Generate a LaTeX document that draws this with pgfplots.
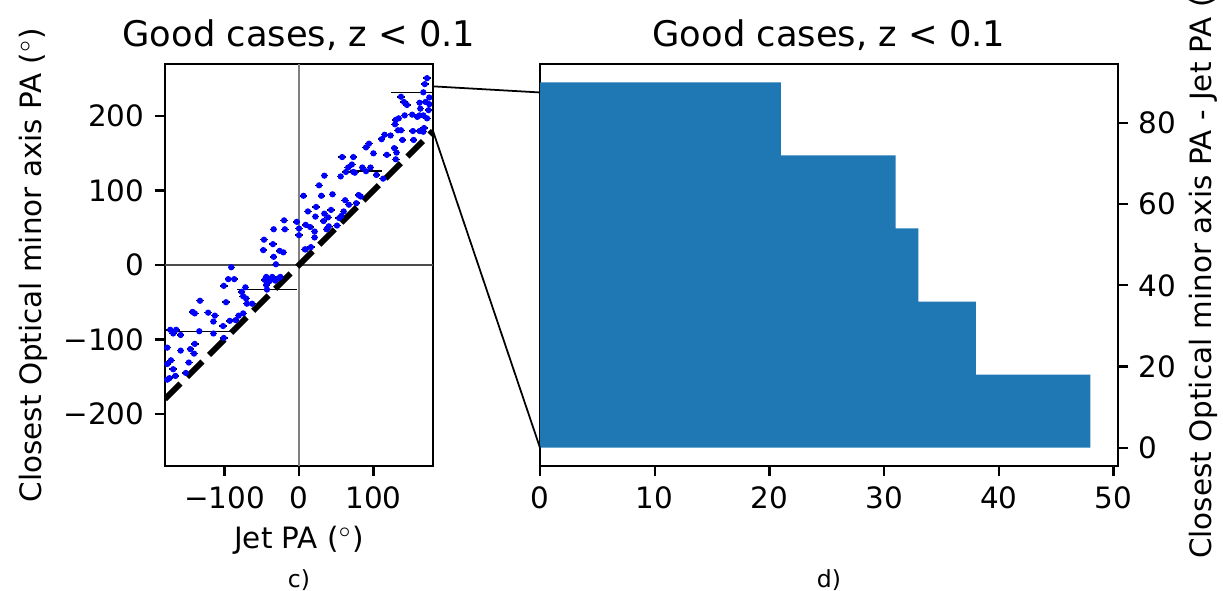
\documentclass[border=0pt]{standalone}
\usepackage{pgfplots}
\usepackage{pgfplotstable}
\pgfplotsset{compat=1.18}
\usepackage{fontspec}
\setmainfont{DejaVu Sans}
\definecolor{mplblue}{HTML}{1F77B4}

\pgfplotstableread{
x y ex
-133 -48 5
-143 -63 5
-140 -65 5
-122 -64 5
-113 -68 5
-115 -76 5
-173 -87 5
-169 -92 5
-165 -87 5
-159 -94 5
-134 -89 42
-115 -92 5
-177 -111 5
-159 -115 5
-146 -113 5
-140 -106 5
-141 -119 5
-172 -128 5
-177 -133 5
-148 -131 5
-169 -140 5
-166 -149 5
-174 -152 5
-177 -154 5
-152 -145 5
-91 -3 5
-95 -19 5
-87 -19 5
-101 -28 5
-72 -30 5
-77 -36 5
-75 -42 5
-71 -45 5
-70 -52 5
-63 -52 5
-98 -50 5
-102 -82 5
-93 -75 5
-85 -74 5
-81 -68 5
-75 -65 5
-101 -98 5
-20 60 5
-3 58 5
0 49 5
9 54 5
-34 48 5
-19 48 5
-47 34 5
-35 28 5
-48 20 5
-26 19 5
-21 17 5
-34 11 5
8 21 5
-31 1 5
-44 -16 5
-36 -16 5
-25 -16 5
-46 -20 5
-40 -22 5
-32 -21 5
-28 -18 5
-38 -19 5
-44 -27 5
-43 -33 40
66 131 5
73 125 5
63 125 5
56 119 5
34 120 5
27 107 5
6 93 5
30 93 5
45 95 5
62 87 5
67 81 5
23 78 5
12 72 5
43 74 5
60 72 5
34 69 5
22 65 5
39 64 5
54 63 5
33 59 5
15 51 5
40 52 5
51 53 5
37 48 5
21 45 5
0 40 5
21 37 5
9 21 5
16 24 5
130 195 5
129 189 5
133 181 5
115 175 5
123 174 5
111 169 5
94 163 5
90 158 5
128 157 5
131 151 5
100 150 5
118 148 5
130 142 5
58 145 5
73 145 5
71 135 5
85 131 5
96 131 5
75 124 5
90 126 21
104 121 5
113 116 5
80 94 5
83 92 5
77 83 5
57 66 5
172 251 5
169 243 5
167 232 43
175 225 5
137 226 5
141 219 5
145 215 5
162 218 5
170 219 5
175 216 5
163 210 5
174 208 5
152 202 5
159 199 5
162 201 5
167 201 5
172 197 5
142 201 5
134 197 5
137 181 5
153 180 5
162 180 5
168 184 5
167 179 5
139 168 5
154 168 5
}\pts

\pgfplotsset{
  mplstyle/.style={
    scale only axis,
    anchor=south west,
    height=136.68pt,
    tick align=outside,
    major tick length=3.5pt,
    axis line style={line width=0.8pt},
    every tick/.style={black, line width=0.8pt},
    tick label style={font=\fontsize{10}{12}\selectfont},
    label style={font=\fontsize{10}{12}\selectfont},
    title style={font=\fontsize{12}{14}\selectfont, at={(rel axis cs:0.5,1)}, anchor=center, yshift=3.9pt},
    /pgf/number format/assume math mode=true,
  }
}

\begin{document}
\begin{tikzpicture}
% left scatter
\begin{axis}[mplstyle,
  at={(56.1pt,42.5pt)},
  width=91.12pt,
  xmin=-180, xmax=180, ymin=-270, ymax=270,
  xtick={-100,0,100}, xticklabels={−100,0,100},
  ytick={-200,-100,0,100,200}, yticklabels={−200,−100,0,100,200},
  xtick pos=bottom, ytick pos=left,
  title={Good cases, z < 0.1},
  xlabel={Jet PA ($^\circ$)},
  ylabel={Closest Optical minor axis PA ($^\circ$)},
  xlabel style={at={(rel axis cs:0.5,0)}, anchor=center, yshift=-25.2pt},
  ylabel style={at={(rel axis cs:-0.4925,0.5)}, anchor=center},
]
\addplot[gray, line width=0.5pt] coordinates {(0,-270) (0,270)};
\addplot[gray!60!black, line width=0.5pt] coordinates {(-180,0) (180,0)};
\addplot[black, line width=2pt, dash pattern=on 7.4pt off 3.2pt] coordinates {(-180,-180) (180,180)};
\addplot[only marks, mark=*, mark size=0.85pt, color=blue, mark options={fill=blue, draw=blue},
  error bars/.cd, x dir=both, x explicit, error mark=none,
  error bar style={black, line width=0.5pt}]
  table[x=x, y=y, x error=ex] {\pts};
\coordinate (L1) at (axis cs:180,240);
\coordinate (L2) at (axis cs:180,180);
\coordinate (LC) at (rel axis cs:0.5,0);
\end{axis}
% right histogram
\begin{axis}[mplstyle,
  at={(183.6pt,42.5pt)},
  width=196.52pt,
  xmin=0, xmax=50.4, ymin=-4.5, ymax=94.5,
  xtick={0,10,20,30,40,50},
  ytick={0,20,40,60,80},
  xtick pos=bottom, ytick pos=right, yticklabel pos=right,
  title={Good cases, z < 0.1},
  ylabel={Closest Optical minor axis PA - Jet PA ($^\circ$)},
  ylabel style={at={(rel axis cs:1.147,0.5)}, anchor=center},
]
\addplot[xbar interval, fill=mplblue, draw=none] coordinates {(48,0) (38,18) (33,36) (31,54) (21,72) (21,90)};
\coordinate (R1) at (axis cs:0,87.5);
\coordinate (R2) at (axis cs:0,0);
\coordinate (RC) at (rel axis cs:0.5,0);
\end{axis}
\draw[black, line width=0.6pt] (L1) -- (R1);
\draw[black, line width=0.6pt] (L2) -- (R2);
\node[font=\fontsize{8}{9}\selectfont, yshift=-38.8pt] at (LC) {c)};
\node[font=\fontsize{8}{9}\selectfont, yshift=-38.8pt] at (RC) {d)};
\pgfresetboundingbox
\path[use as bounding box] (0,0) rectangle (415.82pt,200.94pt);
\end{tikzpicture}
\end{document}
